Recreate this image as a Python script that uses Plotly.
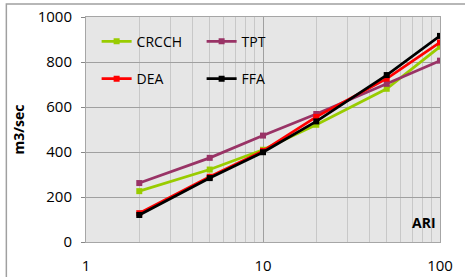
import plotly.graph_objects as go

ari = [2, 5, 10, 20, 50, 100]
crcch = [226, 322, 410, 521, 681, 868]
tpt = [262, 374, 473, 569, 703, 806]
dea = [128, 290, 405, 556, 726, 887]
ffa = [120, 284, 399, 536, 742, 916]

series = [
    ("CRCCH", crcch, "#99cc00", "legend"),
    ("TPT", tpt, "#993366", "legend"),
    ("DEA", dea, "#ff0000", "legend2"),
    ("FFA", ffa, "#000000", "legend2"),
]

FONT = "Open Sans"
fig = go.Figure()
for name, vals, col, lg in series:
    fig.add_trace(go.Scatter(
        x=ari, y=vals, name=name, mode="lines+markers",
        line=dict(color=col, width=2.75),
        marker=dict(symbol="square", size=6, color=col),
        legend=lg,
    ))

grid_dark = "#a0a0a0"
grid_light = "#c8c8c8"

fig.update_layout(
    width=465, height=277,
    margin=dict(l=86, r=25, t=17, b=35, autoexpand=False),
    paper_bgcolor="white",
    plot_bgcolor="#e6e6e6",
    font=dict(family=FONT, size=14, color="#000000"),
    showlegend=True,
    legend=dict(orientation="h", x=0.03, y=0.89, xanchor="left", yanchor="middle",
                bgcolor="rgba(0,0,0,0)", entrywidth=60, font=dict(size=14)),
    legend2=dict(orientation="h", x=0.03, y=0.724, xanchor="left", yanchor="middle",
                 bgcolor="rgba(0,0,0,0)", entrywidth=60, font=dict(size=14)),
    xaxis=dict(type="log", range=[0, 2], tickvals=[1, 10, 100], ticktext=["1", "10", "100"],
               showgrid=True, gridcolor=grid_dark, gridwidth=1, automargin=False,
               minor=dict(showgrid=True, gridcolor=grid_light, gridwidth=1, dtick="D1"),
               showline=True, linecolor="#a6a6a6", linewidth=1, mirror=True,
               ticks="", tickfont=dict(size=15), ticklabelstandoff=10, zeroline=False),
    yaxis=dict(range=[0, 1000], dtick=200, showgrid=True, gridcolor=grid_dark, gridwidth=1,
               showline=True, linecolor="#a6a6a6", linewidth=1, mirror=True, automargin=False,
               ticks="outside", ticklen=4, tickcolor="#868686", tickfont=dict(size=15),
               ticklabelstandoff=6, zeroline=False,
               title=dict(text="m3/sec", font=dict(size=14, family=FONT, weight="bold"), standoff=9)),
    shapes=[
        dict(type="rect", xref="paper", yref="paper", layer="between",
             x0=0.0, x1=0.599, y0=0.659, y1=0.944,
             fillcolor="#e6e6e6", line=dict(width=0)),
        dict(type="rect", xref="paper", yref="paper", layer="below",
             x0=-0.225, x1=1.3, y0=-0.4, y1=1.058,
             fillcolor="rgba(0,0,0,0)", line=dict(color="#a0a0a0", width=1.5)),
    ],
    annotations=[
        dict(text="<b>ARI</b>", xref="paper", yref="paper", x=0.955, y=0.085,
             showarrow=False, font=dict(size=14, family=FONT), xanchor="center", yanchor="middle"),
    ],
)

fig.write_html("out.html", config={"displayModeBar": False},
               post_script="document.body.style.margin='0';")
